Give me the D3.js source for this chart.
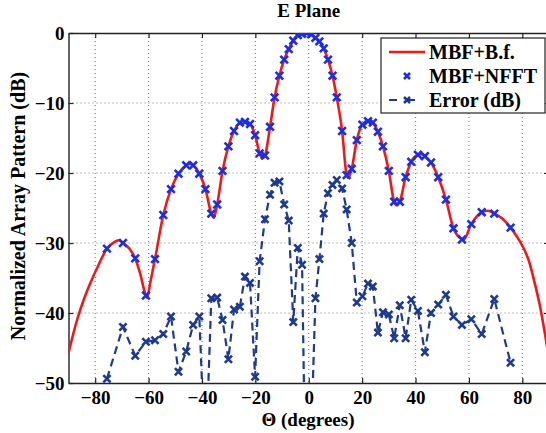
<!DOCTYPE html>
<html>
<head>
<meta charset="utf-8">
<script src="https://cdn.jsdelivr.net/npm/d3@7"></script>
<style>
  html, body { margin: 0; padding: 0; background: #fff; overflow: hidden; }
  svg { display: block; }
  text { font-family: "Liberation Serif", "Times New Roman", serif; font-weight: bold; fill: #000; }
</style>
</head>
<body>
<svg id="chart" width="546" height="433"></svg>
<script>
// Sample angles (degrees) shared by the NFFT pattern and the error curve
const markerAngles = [
  -75.6, -69.6, -65.0, -61.0, -57.6, -54.5, -51.6, -48.8, -45.9, -43.3, -41.0, -38.7,
  -36.5, -34.3, -32.3, -30.1, -28.0, -25.8, -23.9, -22.0, -20.1, -18.4, -16.4, -14.5,
  -12.8, -11.0, -9.2, -7.5, -5.8, -4.1, -2.5, -0.8,
  0.9, 2.5, 4.0, 5.6, 7.2, 8.9, 10.5, 12.5, 14.2, 16.1, 18.0, 20.1, 22.2, 24.0,
  25.9, 27.8, 30.0, 32.0, 34.1, 36.3, 38.4, 40.9, 43.5, 45.8, 48.5, 51.4, 54.2, 57.4,
  60.9, 64.8, 69.5, 75.6
];

// MBF+NFFT normalized pattern (dB)
const nfftValues = [
  -30.8, -30.0, -32.2, -37.5, -32.3, -26.0, -22.3, -20.1, -18.9, -18.9, -20.1, -22.3,
  -25.8, -24.5, -19.7, -16.2, -14.0, -12.8, -12.7, -13.0, -14.6, -17.2, -17.5, -13.4,
  -9.2, -6.1, -3.8, -2.3, -1.1, -0.3, -0.1, 0.0,
  -0.2, -0.7, -1.2, -2.2, -3.8, -6.1, -9.2, -14.0, -20.3, -19.4, -15.3, -13.1, -12.6, -12.8,
  -14.1, -16.2, -19.7, -24.1, -24.1, -20.6, -18.4, -17.4, -17.6, -18.5, -20.6, -23.8, -27.9, -29.5,
  -27.3, -25.6, -25.8, -27.8
];

// Error between the two patterns (dB)
const errorValues = [
  -49.4, -42.0, -46.1, -44.1, -43.9, -43.0, -40.5, -48.4, -45.5, -41.7, -40.5, -62.0,
  -37.9, -37.8, -41.0, -46.6, -39.5, -39.1, -34.8, -35.7, -49.1, -32.6, -26.6, -23.1,
  -21.4, -21.2, -24.5, -26.8, -41.3, -30.7, -33.1, -75.0,
  -58.0, -37.9, -32.3, -25.8, -22.9, -21.7, -21.0, -22.2, -25.2, -30.0, -38.5, -37.6, -35.8, -36.2,
  -42.8, -39.9, -40.2, -43.6, -38.9, -43.6, -38.1, -39.7, -45.6, -40.0, -38.8, -37.4, -40.5, -41.7,
  -40.9, -43.0, -38.0, -47.1
];

// MBF + brute-force reference pattern (continuous curve)
const bfAngles = [
  -90, -86.8, -84.3, -81.8, -78.7, -75.6, -73.0, -71.2, -69.6, -67.0, -65.0, -63.2,
  -61.0, -60.5, -59.4, -57.6, -54.5, -51.6, -48.8, -45.9, -44.6, -43.3, -41.0, -38.7,
  -36.5, -35.6, -34.3, -32.3, -30.1, -28.0, -25.8, -24.8, -23.9, -22.0, -20.1, -18.4,
  -17.4, -16.4, -14.5, -12.8, -11.0, -9.2, -7.5, -5.8, -4.1, -2.5, -1.1, 0.9,
  2.5, 4.0, 5.6, 7.2, 8.9, 10.5, 12.5, 14.2, 14.8, 16.1, 18.0, 20.1,
  22.2, 23.2, 24.0, 25.9, 27.8, 30.0, 32.0, 33.0, 34.1, 36.3, 38.4, 40.9,
  42.2, 43.5, 45.8, 48.5, 51.4, 54.2, 57.4, 57.9, 60.9, 64.8, 67.2, 69.5,
  72.5, 75.6, 78.0, 80.3, 82.5, 84.5, 86.5, 88.5, 90
];
const bfValues = [
  -45.7, -41.0, -38.1, -35.7, -33.1, -30.8, -29.9, -29.6, -30.0, -30.9, -32.2, -34.3,
  -37.5, -37.8, -35.7, -32.3, -26.0, -22.3, -20.1, -18.9, -18.7, -18.9, -20.1, -22.3,
  -25.8, -26.4, -24.5, -19.7, -16.2, -14.0, -12.8, -12.6, -12.7, -13.0, -14.6, -17.2,
  -17.9, -17.5, -13.4, -9.2, -6.1, -3.8, -2.3, -1.1, -0.3, -0.1, 0.0, -0.2,
  -0.7, -1.2, -2.2, -3.8, -6.1, -9.2, -14.0, -20.3, -20.7, -19.4, -15.3, -13.1,
  -12.6, -12.5, -12.8, -14.1, -16.2, -19.7, -24.1, -24.6, -24.1, -20.6, -18.4, -17.4,
  -17.3, -17.6, -18.5, -20.6, -23.8, -27.9, -29.5, -29.6, -27.3, -25.6, -25.4, -25.8,
  -26.5, -27.8, -29.1, -30.6, -32.6, -35.5, -38.8, -43.0, -46.5
];

const xTicks = [-80, -60, -40, -20, 0, 20, 40, 60, 80];
const yTicks = [0, -10, -20, -30, -40, -50];
const legendLabels = ["MBF+B.f.", "MBF+NFFT", "Error (dB)"];
const titleText = "E Plane";
const xLabel = "\u0398 (degrees)";
const yLabel = "Normalized Array Pattern (dB)";

const svg = d3.select("#chart");
const plotL = 68.5, plotR = 549, plotT = 33, plotB = 383;

const x = d3.scaleLinear().domain([-90, 90]).range([plotL, plotR]);
const y = d3.scaleLinear().domain([-50, 0]).range([plotB, plotT]);

const fmt = d => d < 0 ? "\u2212" + Math.abs(d) : String(d);

svg.append("defs").append("clipPath").attr("id", "plotClip")
  .append("rect").attr("x", plotL).attr("y", plotT)
  .attr("width", plotR - plotL).attr("height", plotB - plotT);

// dotted grid
const grid = svg.append("g").attr("stroke", "#808080").attr("stroke-width", 1.2)
  .attr("stroke-dasharray", "1,3");
grid.selectAll("line.gx").data(xTicks).join("line").attr("class", "gx")
  .attr("x1", d => x(d)).attr("x2", d => x(d)).attr("y1", plotT).attr("y2", plotB);
grid.selectAll("line.gy").data(yTicks.filter(d => d > -50 && d < 0)).join("line").attr("class", "gy")
  .attr("y1", d => y(d)).attr("y2", d => y(d)).attr("x1", plotL).attr("x2", plotR);

// axes (ticks point inward)
function styleAxis(g) {
  g.select(".domain").attr("stroke", "#222").attr("stroke-width", 1.4);
  g.selectAll(".tick line").attr("stroke", "#222").attr("stroke-width", 1.2);
  g.selectAll(".tick text").attr("font-size", 19).attr("fill", "#000")
    .attr("font-family", "Liberation Serif, Times New Roman, serif").attr("font-weight", "bold");
}
svg.append("g").attr("transform", `translate(0,${plotB})`)
  .call(d3.axisBottom(x).tickValues(xTicks).tickFormat(fmt).tickSizeInner(-5).tickSizeOuter(0).tickPadding(8))
  .call(styleAxis);
svg.append("g").attr("transform", `translate(0,${plotT})`)
  .call(d3.axisTop(x).tickValues(xTicks).tickFormat("").tickSizeInner(-5).tickSizeOuter(0))
  .call(styleAxis);
svg.append("g").attr("transform", `translate(${plotL},0)`)
  .call(d3.axisLeft(y).tickValues(yTicks).tickFormat(fmt).tickSizeInner(-5).tickSizeOuter(0).tickPadding(4))
  .call(styleAxis);
svg.append("g").attr("transform", `translate(${plotR},0)`)
  .call(d3.axisRight(y).tickValues(yTicks).tickFormat("").tickSizeInner(-5).tickSizeOuter(0))
  .call(styleAxis);

const plot = svg.append("g").attr("clip-path", "url(#plotClip)");

const cross = r => `M${-r},${-r}L${r},${r}M${-r},${r}L${r},${-r}`;

// MBF+B.f. curve
const bfData = bfAngles.map((a, i) => [a, bfValues[i]]);
plot.append("path").datum(bfData)
  .attr("fill", "none").attr("stroke", "#f01818").attr("stroke-width", 2.6)
  .attr("d", d3.line().x(d => x(d[0])).y(d => y(d[1])).curve(d3.curveMonotoneX));

// MBF+NFFT markers
const nfftData = markerAngles.map((a, i) => [a, nfftValues[i]]);
plot.append("g").selectAll("path").data(nfftData).join("path")
  .attr("transform", d => `translate(${x(d[0])},${y(d[1])})`)
  .attr("d", cross(3.8)).attr("fill", "none")
  .attr("stroke", "#1a2ee6").attr("stroke-width", 2.6);

// Error curve
const errData = markerAngles.map((a, i) => [a, errorValues[i]]);
plot.append("path").datum(errData)
  .attr("fill", "none").attr("stroke", "#1c3a8e").attr("stroke-width", 2.2)
  .attr("stroke-dasharray", "8,5")
  .attr("d", d3.line().x(d => x(d[0])).y(d => y(d[1])));
plot.append("g").selectAll("path").data(errData).join("path")
  .attr("transform", d => `translate(${x(d[0])},${y(d[1])})`)
  .attr("d", cross(3.6)).attr("fill", "none")
  .attr("stroke", "#1c3a8e").attr("stroke-width", 2.6);

// title and axis labels
svg.append("text").attr("x", (plotL + plotR) / 2).attr("y", 16.5)
  .attr("text-anchor", "middle").attr("font-size", 19).text(titleText);
svg.append("text").attr("x", 308).attr("y", 426)
  .attr("text-anchor", "middle").attr("font-size", 19).text(xLabel);
svg.append("text").attr("transform", "translate(25,206) rotate(-90)")
  .attr("text-anchor", "middle").attr("font-size", 20).text(yLabel);

// legend
const lg = svg.append("g");
lg.append("rect").attr("x", 381).attr("y", 38).attr("width", 164).attr("height", 75)
  .attr("fill", "#fff").attr("stroke", "#222").attr("stroke-width", 1.2);
const rows = [52, 76, 100];
lg.append("line").attr("x1", 389).attr("x2", 425).attr("y1", rows[0]).attr("y2", rows[0])
  .attr("stroke", "#f01818").attr("stroke-width", 2.6);
lg.append("path").attr("transform", `translate(407,${rows[1]})`).attr("d", cross(3))
  .attr("fill", "none").attr("stroke", "#1a2ee6").attr("stroke-width", 2.6);
lg.append("line").attr("x1", 389).attr("x2", 425).attr("y1", rows[2]).attr("y2", rows[2])
  .attr("stroke", "#1c3a8e").attr("stroke-width", 2.2).attr("stroke-dasharray", "8,10");
lg.append("path").attr("transform", `translate(407,${rows[2]})`).attr("d", cross(3))
  .attr("fill", "none").attr("stroke", "#1c3a8e").attr("stroke-width", 2.6);
lg.selectAll("text").data(legendLabels).join("text")
  .attr("x", 429).attr("y", (d, i) => rows[i] + 7).attr("font-size", 20).text(d => d);
</script>
</body>
</html>
